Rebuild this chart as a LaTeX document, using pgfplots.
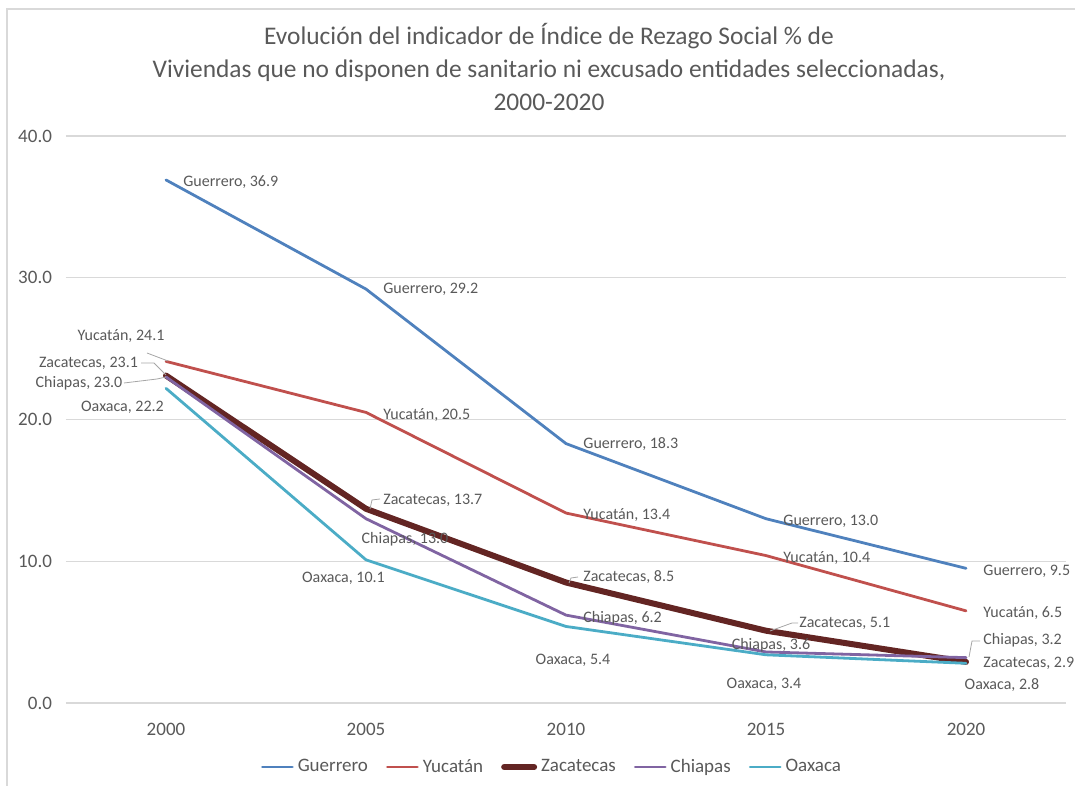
\documentclass[border=0pt]{standalone}
\usepackage{pgfplots}
\pgfplotsset{compat=1.18}
\usepackage{fontspec}
\setmainfont{Carlito}
\definecolor{txt}{HTML}{595959}
\definecolor{gridc}{HTML}{D9D9D9}
\definecolor{leader}{HTML}{A6A6A6}
\definecolor{cG}{HTML}{4F81BD}
\definecolor{cY}{HTML}{C0504D}
\definecolor{cZ}{HTML}{632523}
\definecolor{cC}{HTML}{8064A2}
\definecolor{cO}{HTML}{4BACC6}
\tikzset{lbl/.style={anchor=west, inner sep=0pt, text=txt, font=\fontsize{8}{10}\selectfont},
         lblc/.style={lbl, anchor=center}}
\newcommand{\lbl}[5]{\node[lbl, xshift=#3, yshift=#4] at (axis cs:#1,#2) {#5};}
\newcommand{\lblc}[5]{\node[lblc, xshift=#3, yshift=#4] at (axis cs:#1,#2) {#5};}
\begin{document}
\begin{tikzpicture}
\begin{axis}[
  at={(0,0)}, anchor=south west,
  scale only axis, width=500pt, height=283.5pt,
  xmin=-0.5, xmax=4.5, ymin=0, ymax=40,
  xtick={0,1,2,3,4}, xticklabels={2000,2005,2010,2015,2020},
  ytick={0,10,20,30,40},
  ymajorgrids, major grid style={gridc, line width=0.6pt},
  axis x line*=bottom, axis y line*=left, axis line style={draw=none},
  major tick length=0pt,
  tick label style={font=\fontsize{9.5}{11}\selectfont, text=txt},
  yticklabel style={/pgf/number format/fixed, /pgf/number format/fixed zerofill, /pgf/number format/precision=1, /pgf/number format/assume math mode=true, xshift=-3.5pt},
  xticklabel style={yshift=-6.5pt},
  clip=false,
  legend columns=5,
  legend style={at={(0.487,-0.113)}, anchor=center, draw=none, fill=none,
    font=\fontsize{9.5}{11}\selectfont, text=txt,
    /tikz/every even column/.append style={column sep=7pt}},
  legend image code/.code={\draw[#1] (1.5pt,0pt) -- (16.5pt,0pt);},
  every axis plot/.append style={line join=round, line cap=round},
]
\addplot[cG, line width=1.4pt] coordinates {(0,36.9) (1,29.2) (2,18.3) (3,13.0) (4,9.5)};
\addlegendentry{Guerrero}
\addplot[cY, line width=1.4pt] coordinates {(0,24.1) (1,20.5) (2,13.4) (3,10.4) (4,6.5)};
\addlegendentry{Yucatán}
\addplot[cZ, line width=3pt] coordinates {(0,23.1) (1,13.7) (2,8.5) (3,5.1) (4,2.9)};
\addlegendentry{Zacatecas}
\addplot[cC, line width=1.4pt] coordinates {(0,23.0) (1,13.0) (2,6.2) (3,3.6) (4,3.2)};
\addlegendentry{Chiapas}
\addplot[cO, line width=1.4pt] coordinates {(0,22.2) (1,10.1) (2,5.4) (3,3.4) (4,2.8)};
\addlegendentry{Oaxaca}
% Guerrero
\lbl{0}{36.9}{8.5pt}{-1pt}{Guerrero, 36.9}
\lbl{1}{29.2}{8.5pt}{0pt}{Guerrero, 29.2}
\lbl{2}{18.3}{8.5pt}{0pt}{Guerrero, 18.3}
\lbl{3}{13.0}{8.5pt}{-1.15pt}{Guerrero, 13.0}
\lbl{4}{9.5}{8.5pt}{-1.35pt}{Guerrero, 9.5}
% Yucatan
\lblc{0}{24.1}{-22.5pt}{12.7pt}{Yucatán, 24.1}
\lbl{1}{20.5}{8.5pt}{-1.3pt}{Yucatán, 20.5}
\lbl{2}{13.4}{8.5pt}{-1pt}{Yucatán, 13.4}
\lbl{3}{10.4}{8.5pt}{-1.2pt}{Yucatán, 10.4}
\lbl{4}{6.5}{8.5pt}{-1pt}{Yucatán, 6.5}
% Zacatecas
\lblc{0}{23.1}{-38.75pt}{6.3pt}{Zacatecas, 23.1}
\lbl{1}{13.7}{8.5pt}{4pt}{Zacatecas, 13.7}
\lbl{2}{8.5}{8.5pt}{2.75pt}{Zacatecas, 8.5}
\lbl{3}{5.1}{16.5pt}{3.85pt}{Zacatecas, 5.1}
\lbl{4}{2.9}{8.5pt}{-0.5pt}{Zacatecas, 2.9}
% Chiapas
\lblc{0}{23.0}{-43.5pt}{-3pt}{Chiapas, 23.0}
\lblc{1}{13.0}{19.5pt}{-10.15pt}{Chiapas, 13.0}
\lbl{2}{6.2}{8.5pt}{-1.5pt}{Chiapas, 6.2}
\lblc{3}{3.6}{2.5pt}{3.5pt}{Chiapas, 3.6}
\lbl{4}{3.2}{8.5pt}{8.8pt}{Chiapas, 3.2}
% Oaxaca
\lblc{0}{22.2}{-21.75pt}{-9.35pt}{Oaxaca, 22.2}
\lblc{1}{10.1}{-11.25pt}{-9.1pt}{Oaxaca, 10.1}
\lblc{2}{5.4}{3.5pt}{-16.75pt}{Oaxaca, 5.4}
\lblc{3}{3.4}{-1pt}{-14.6pt}{Oaxaca, 3.4}
\lblc{4}{2.8}{18pt}{-10.85pt}{Oaxaca, 2.8}
\end{axis}
% leader lines
\begin{scope}[leader, line width=0.4pt]
\draw (40.5pt,175pt) -- (51pt,171pt);
\draw (37.5pt,170pt) -- (44pt,170pt) -- (50pt,164pt);
\draw (29pt,160pt) -- (45.5pt,162pt) -- (50pt,163pt);
\draw (152pt,97pt) -- (153pt,101.5pt) -- (157pt,102pt);
\draw (251.5pt,60pt) -- (252.5pt,62.5pt) -- (256pt,63pt);
\draw (352pt,36pt) -- (363pt,40pt) -- (366pt,40pt);
\draw (451.5pt,23pt) -- (453pt,31pt) -- (457pt,31pt);
\end{scope}
% title
\node[align=center, font=\fontsize{12.7}{16.5}\selectfont, text=txt] at (241.5pt,318pt)
  {Evolución del indicador de Índice de Rezago Social \% de\\Viviendas que no disponen de sanitario ni excusado entidades seleccionadas,\\2000-2020};
% chart border (top and left visible)
\draw[gridc, line width=0.75pt] (-29.5pt,-41.5pt) -- (-29.5pt,347pt) -- (504.5pt,347pt);
\pgfresetboundingbox
\path[use as bounding box] (-33pt,-41.5pt) rectangle (504.5pt,351.5pt);
\end{tikzpicture}
\end{document}
